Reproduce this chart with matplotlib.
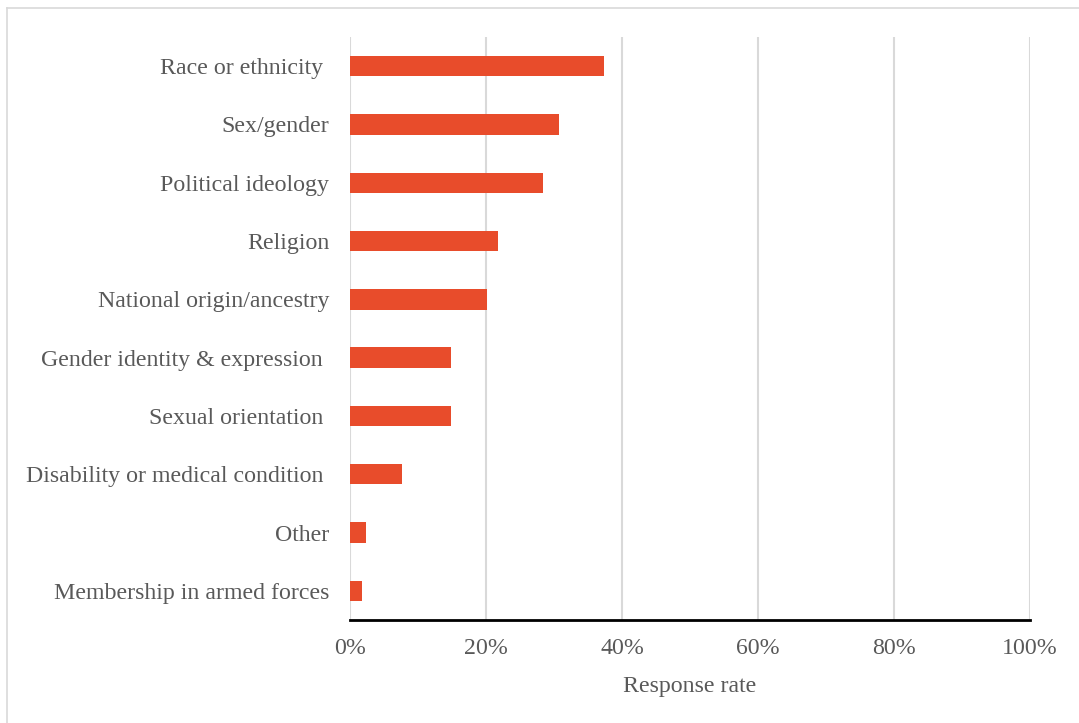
import matplotlib
matplotlib.use("Agg")
import matplotlib.pyplot as plt
from matplotlib.lines import Line2D
from matplotlib.ticker import FuncFormatter

categories = ["Race or ethnicity ", "Sex/gender", "Political ideology", "Religion",
              "National origin/ancestry", "Gender identity & expression ",
              "Sexual orientation ", "Disability or medical condition ",
              "Other", "Membership in armed forces"]
values = [37.4, 30.8, 28.4, 21.8, 20.1, 14.9, 14.8, 7.7, 2.3, 1.8]
xticks = [0, 20, 40, 60, 80, 100]

plt.rcParams['font.family'] = ['Liberation Serif', 'DejaVu Serif']
txt = '#595959'
fs = 17.2

fig = plt.figure(figsize=(10.79, 7.23), dpi=100)
W, H = 1079, 723
ax = fig.add_axes([350 / W, 1 - 620 / H, 680 / W, 583 / H])

ypos = list(range(len(categories)))
ax.barh(ypos, values, height=0.35, color='#E84C2B', zorder=3)
ax.set_ylim(len(categories) - 0.5, -0.5)
ax.set_xlim(0, 100)
ax.set_yticks(ypos)
ax.set_yticklabels(categories, fontsize=fs, color=txt)
ax.set_xticks(xticks)
ax.xaxis.set_major_formatter(FuncFormatter(lambda v, p: f"{int(v)}%"))
ax.tick_params(axis='x', labelsize=fs, labelcolor=txt, length=0, pad=13)
ax.tick_params(axis='y', length=0, pad=15)
ax.grid(axis='x', color='#d9d9d9', linewidth=1.5, zorder=0)
for s in ['top', 'right', 'left']:
    ax.spines[s].set_visible(False)
ax.spines['bottom'].set_color('black')
ax.spines['bottom'].set_linewidth(2)
ax.spines['bottom'].set_zorder(4)
ax.set_xlabel("Response rate", fontsize=fs, color=txt, labelpad=12)

bx, by = 6.5 / W, 1 - 7.5 / H
fig.add_artist(Line2D([bx, bx], [0, by], transform=fig.transFigure, color='#d9d9d9', linewidth=1.2))
fig.add_artist(Line2D([bx, 1], [by, by], transform=fig.transFigure, color='#d9d9d9', linewidth=1.2))

fig.savefig("out.png", dpi=100)
